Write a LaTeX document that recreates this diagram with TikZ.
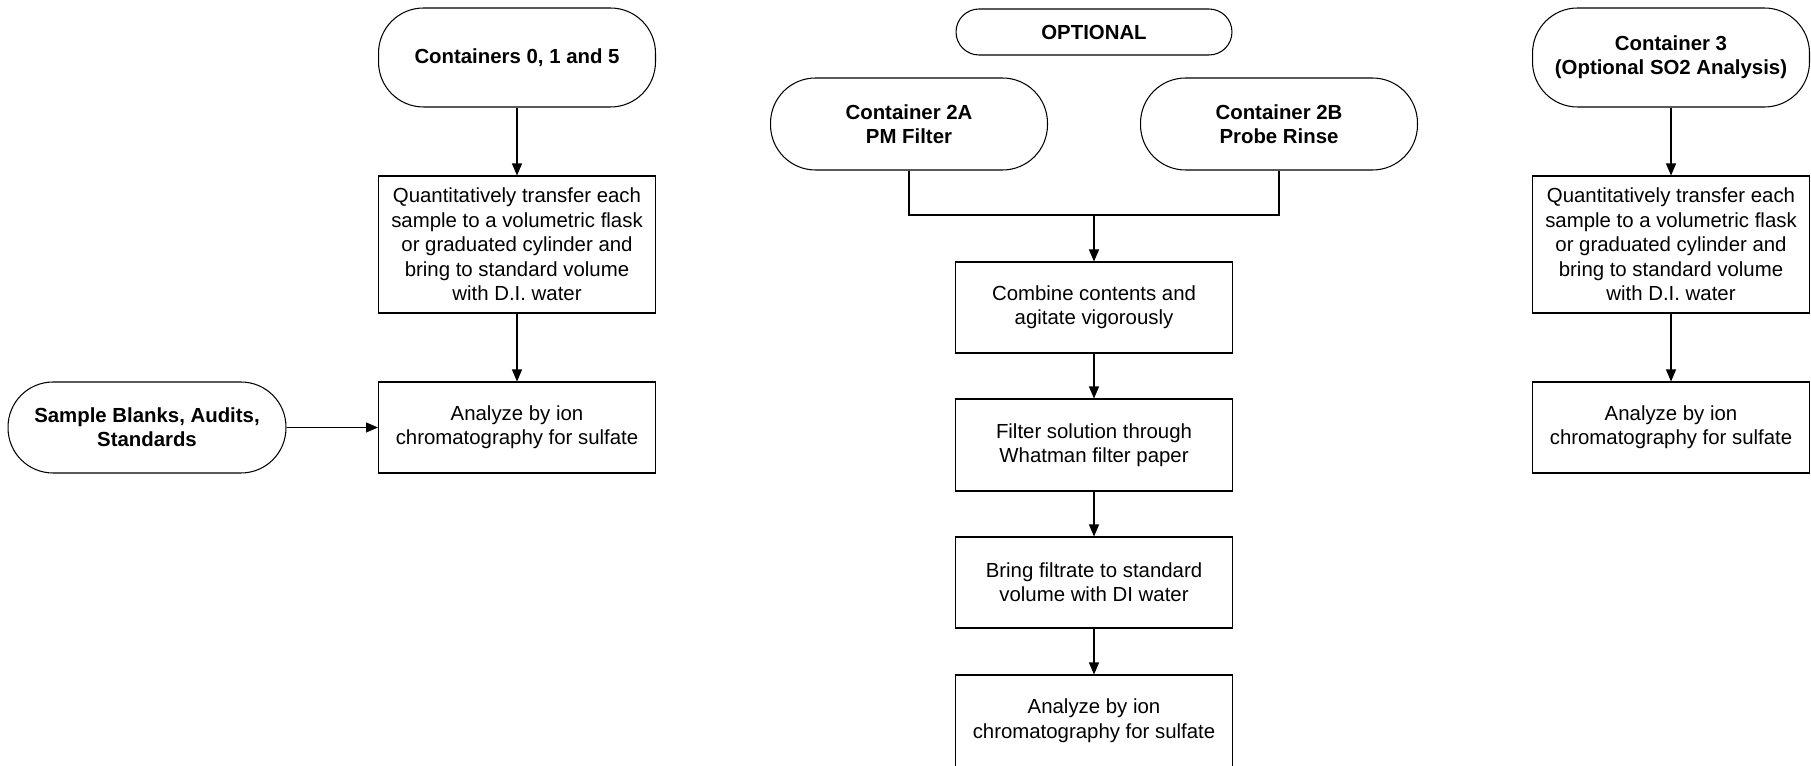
\documentclass[tikz,border=0pt]{standalone}
\usepackage{fontspec}
\setmainfont{Liberation Sans}
\usetikzlibrary{arrows.meta}

\tikzset{
  term/.style={draw, rounded corners=0.9cm, minimum width=5.54cm, align=center, font=\fontsize{11.6}{13.9}\selectfont\bfseries},
  proc/.style={draw, minimum width=5.54cm, align=center},
  flow/.style={-{Triangle[length=0.24cm,width=0.2cm]}}
}

\begin{document}
\begin{tikzpicture}[x=0.02cm, y=-0.02cm, line width=0.6pt, every node/.style={font=\fontsize{11.6}{13.9}\selectfont}]
			\useasboundingbox (0,0) rectangle (1811,766);
			% left column
			\node[term, minimum height=1.98cm] (c015) at (517,57.5) {Containers 0, 1 and 5};
			\node[proc, minimum height=2.74cm] (q1) at (517,244.5) {Quantitatively transfer each\\sample to a volumetric flask\\or graduated cylinder and\\bring to standard volume\\with D.I. water};
			\node[proc, minimum height=1.82cm] (an1) at (517,427.5) {Analyze by ion\\chromatography for sulfate};
			\node[term, minimum height=1.82cm, minimum width=5.56cm] (blk) at (147,427.5) {Sample Blanks, Audits,\\Standards};
			\draw[flow] (c015) -- (q1);
			\draw[flow] (q1) -- (an1);
			\draw[flow] (blk) -- (an1);
			% middle column
			\node[term, rounded corners=0.46cm, minimum height=0.92cm, minimum width=5.52cm] (opt) at (1094,32) {OPTIONAL};
			\node[term, minimum height=1.84cm] (c2a) at (909,124) {Container 2A\\PM Filter};
			\node[term, minimum height=1.84cm] (c2b) at (1279,124) {Container 2B\\Probe Rinse};
			\coordinate (m) at (1094,215);
			\node[proc, minimum height=1.82cm] (comb) at (1094,307.5) {Combine contents and\\agitate vigorously};
			\node[proc, minimum height=1.84cm] (filt) at (1094,445) {Filter solution through\\Whatman filter paper};
			\node[proc, minimum height=1.82cm] (brng) at (1094,582.5) {Bring filtrate to standard\\volume with DI water};
			% runs off the bottom edge
			\node[proc, minimum height=2.2cm, text depth=0.46cm] (an2) at (1094,730) {Analyze by ion\\chromatography for sulfate};
			\draw (c2a) |- (m) -| (c2b);
			\draw[flow] (m) -- (comb);
			\draw[flow] (comb) -- (filt);
			\draw[flow] (filt) -- (brng);
			\draw[flow] (brng) -- (an2);
			% right column
			\node[term, minimum height=1.98cm] (c3) at (1671,57.5) {Container 3\\(Optional SO2 Analysis)};
			\node[proc, minimum height=2.74cm] (q3) at (1671,244.5) {Quantitatively transfer each\\sample to a volumetric flask\\or graduated cylinder and\\bring to standard volume\\with D.I. water};
			\node[proc, minimum height=1.82cm] (an3) at (1671,427.5) {Analyze by ion\\chromatography for sulfate};
			\draw[flow] (c3) -- (q3);
			\draw[flow] (q3) -- (an3);
		\end{tikzpicture}
\end{document}
